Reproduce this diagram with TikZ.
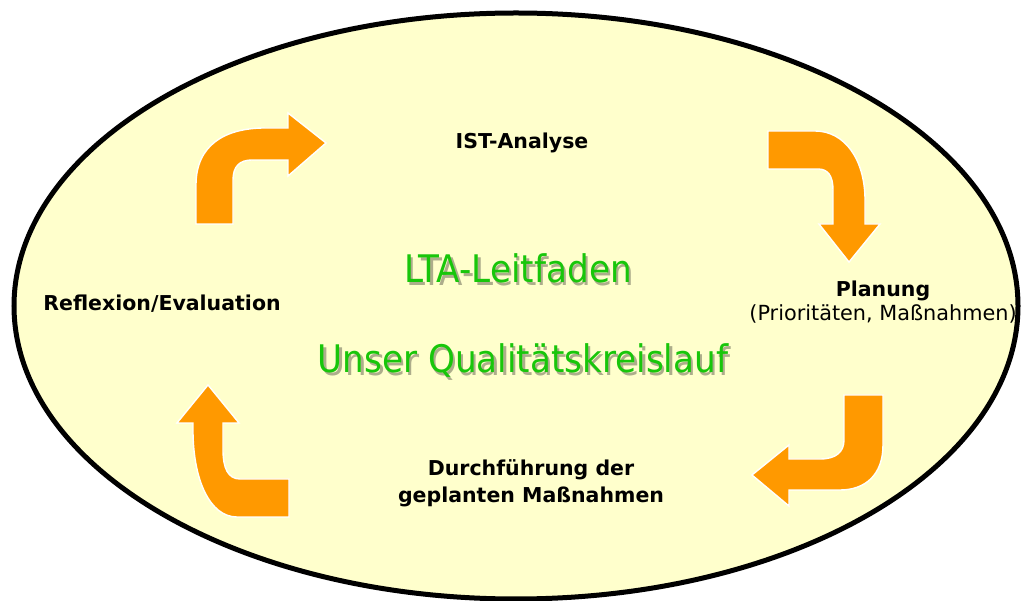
\documentclass[tikz,border=0pt]{standalone}
\usepackage{fontspec}
\setmainfont{DejaVu Sans}
\newfontfamily\titlefont[FakeStretch=0.9]{DejaVu Sans}
\definecolor{cyclebg}{RGB}{255,255,204}
\definecolor{cyclearrow}{RGB}{255,153,0}
\definecolor{cyclegreen}{RGB}{24,198,10}
\colorlet{titleshadow}{cyclebg!68!black}
% title text with a soft drop shadow behind it
\newcommand{\shadowtitle}[1]{\makebox[0pt][l]{\hspace{2.5pt}\raisebox{-2.5pt}{\textcolor{titleshadow}{#1}}}#1}
\tikzset{
  stage/.style={font=\bfseries\fontsize{20.5}{24}\selectfont, text=black, anchor=base, inner sep=0pt},
  note/.style={font=\fontsize{20.8}{24}\selectfont, text=black, anchor=base, inner sep=0pt},
  headline/.style={font=\titlefont\fontsize{38}{44}\selectfont, text=cyclegreen, anchor=base, inner sep=0pt},
  bentarrow/.style={fill=cyclearrow, draw=white, line width=1.4pt, line join=miter}
}
\begin{document}
\begin{tikzpicture}[x=1pt,y=-1pt]
  \useasboundingbox (0,0) rectangle (1021,601);

  % background ellipse
  \draw[line width=5pt, fill=cyclebg] (516,306) ellipse [x radius=502, y radius=293];

  % bent arrows of the cycle
  \path[bentarrow] (196,224) -- (196,185) .. controls (196,145) and (225,128) .. (265,128)
    -- (288,128) -- (288,113) -- (326,143) -- (288,176) -- (288,160) -- (252,160)
    .. controls (240,160) and (233,166) .. (233,180) -- (233,224) -- cycle;
  \path[bentarrow] (768,131) -- (815,131) .. controls (845,131) and (865,160) .. (865,200)
    -- (865,224) -- (880,224) -- (849,262) -- (819,224) -- (833,224) -- (833,190)
    .. controls (833,176) and (828,169) .. (818,169) -- (768,169) -- cycle;
  \path[bentarrow] (844,395) -- (883,395) -- (883,445) .. controls (883,475) and (865,490) .. (840,490)
    -- (789,490) -- (789,506) -- (752,475) -- (789,445) -- (789,459) -- (820,459)
    .. controls (836,459) and (844,452) .. (844,440) -- cycle;
  \path[bentarrow] (289,479) -- (289,517) -- (237,517) .. controls (210,517) and (193,480) .. (193,430)
    -- (193,423) -- (177,423) -- (208,385) -- (239,423) -- (223,423) -- (223,450)
    .. controls (223,468) and (228,479) .. (240,479) -- cycle;

  % stages
  \node[stage] (ist) at (522,149) {IST-Analyse};
  \node[stage] (plan) at (883,297) {Planung};
  \node[note] (plannote) at (883,321) {(Prioritäten, Maßnahmen)};
  \node[stage] (durch1) at (531,476) {Durchführung der};
  \node[stage] (durch2) at (531,503) {geplanten Maßnahmen};
  \node[stage] (refl) at (162,311) {Reflexion/Evaluation};

  % centre titles
  \node[headline] (lta) at (518,283) {\shadowtitle{LTA-Leitfaden}};
  \node[headline] (quali) at (523,373) {\shadowtitle{Unser Qualitätskreislauf}};
\end{tikzpicture}
\end{document}
